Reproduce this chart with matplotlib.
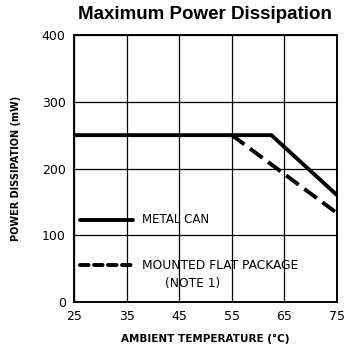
import matplotlib
matplotlib.use("Agg")
import matplotlib.pyplot as plt
import numpy as np

# values
temp_can = [25, 62.5, 75]
power_can = [250, 250, 160]
temp_flat = [55, 75]
power_flat = [250, 133]

x_ticks = [25, 35, 45, 55, 65, 75]
y_ticks = [0, 100, 200, 300, 400]

narrow = ['Liberation Sans Narrow', 'DejaVu Sans']
plt.rcParams['font.family'] = narrow

fig = plt.figure(figsize=(3.44, 3.54), dpi=100)
ax = fig.add_axes([0.215, 0.147, 0.765, 0.754])

ax.plot(temp_can, power_can, color='black', lw=2.8, solid_capstyle='butt')
ax.plot(temp_flat, power_flat, color='black', lw=2.8, dashes=(4, 1.8))

# legend drawn inside the plot like the datasheet
ax.plot([26.2, 36.2], [123, 123], color='black', lw=2.8, solid_capstyle='round')
ax.text(37.9, 123, 'METAL CAN', fontsize=8.5, va='center', ha='left')
ax.plot([26.2, 36.2], [55, 55], color='black', lw=2.8, dashes=(2.2, 1.4),
        solid_capstyle='round', dash_capstyle='round')
ax.text(37.9, 55, 'MOUNTED FLAT PACKAGE', fontsize=8.8, va='center', ha='left')
ax.text(47.5, 28, '(NOTE 1)', fontsize=8.8, va='center', ha='center')

ax.set_xlim(25, 75)
ax.set_ylim(0, 400)
ax.set_xticks(x_ticks)
ax.set_yticks(y_ticks)
ax.tick_params(length=0, labelsize=9, pad=6)
ax.grid(True, color='black', lw=0.9)
for s in ax.spines.values():
    s.set_linewidth(1.4)

ax.set_xlabel('AMBIENT TEMPERATURE (°C)', fontsize=7.5, fontweight='bold', labelpad=8)
ax.set_ylabel('POWER DISSIPATION (mW)', fontsize=7, fontweight='bold', labelpad=15)
fig.text(0.596, 0.96, 'Maximum Power Dissipation', fontsize=13.5, fontweight='heavy',
         ha='center', va='center', family=['Liberation Sans', 'DejaVu Sans'])

fig.savefig('out.png', dpi=100, facecolor='white')
